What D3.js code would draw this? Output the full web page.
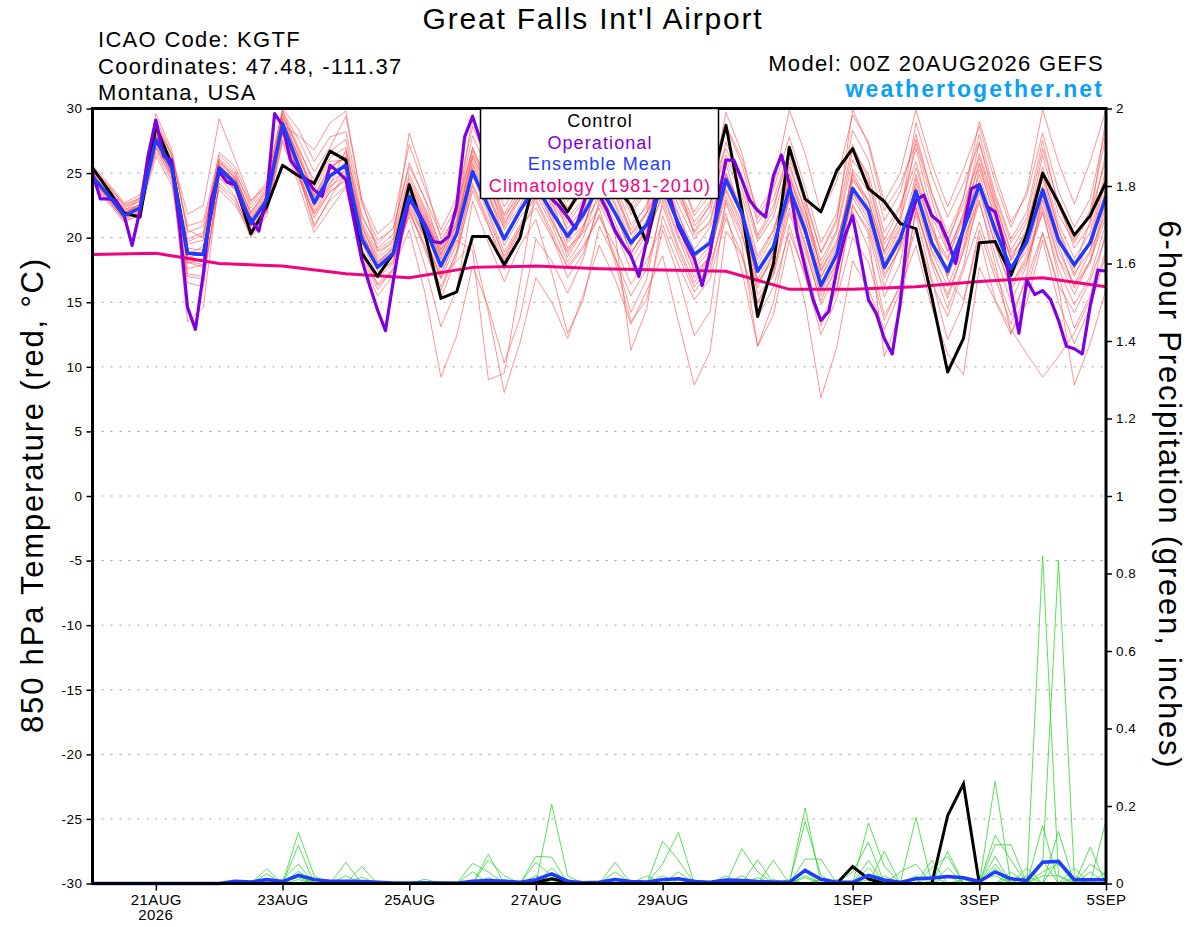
<!DOCTYPE html>
<html>
<head>
<meta charset="utf-8">
<script src="https://cdn.jsdelivr.net/npm/d3@7"></script>
<style>
body { margin: 0; background: #fff; }
text { font-family: "Liberation Sans", Arial, Helvetica, sans-serif; }
</style>
</head>
<body>
<div class="chart"></div>
<script>
// 850 hPa temperature, 6-hourly from 00Z 20AUG2026 (65 steps)
const controlTemp = [25.4,23.7,21.9,21.6, 28.6,25.7,18.8,18.7, 25.4,24.2,20.3,22.4, 25.6,24.8,24.2,26.7, 26.0,18.8,17.0,18.8, 24.1,20.3,15.3,15.8, 20.1,20.1,17.9,20.0, 25.0,23.8,22.0,24.0, 25.5,24.0,22.5,19.6, 25.0,24.0,25.5,23.8, 28.7,22.3,13.9,18.0, 27.0,23.0,22.0,25.2, 26.9,23.8,22.8,21.1, 20.7,15.4,9.6,12.2, 19.6,19.7,17.1,20.3, 25.0,22.7,20.2,21.7, 24.3];
const meanTemp = [24.7,23.3,21.7,22.3, 27.6,25.4,18.8,18.7, 25.4,24.2,21.1,22.9, 28.8,25.6,22.7,24.8, 25.6,19.9,17.7,18.8, 23.2,20.8,17.8,20.3, 25.1,22.4,19.9,22.1, 24.0,22.0,20.1,21.8, 24.0,21.9,19.6,21.0, 24.0,21.1,18.7,19.6, 24.5,21.9,17.4,19.3, 23.8,20.6,16.3,18.7, 23.8,22.1,17.7,19.9, 23.6,19.6,17.4,20.6, 24.1,20.6,17.6,19.7, 23.7,19.8,17.9,19.6, 23.2];
// operational run, 3-hourly (129 steps)
const operationalTemp = [25.0,23.0,23.0,22.9,21.7,19.4,22.1,26.3, 29.1,26.3,26.0,20.8,14.6,12.9,17.2,22.9, 25.1,24.3,24.1,22.4,21.4,20.5,23.2,29.6, 28.7,26.0,25.2,24.5,23.7,23.2,25.6,25.1, 24.5,21.4,18.3,16.3,14.4,12.8,16.7,20.3, 22.9,22.2,21.0,19.7,19.6,20.1,22.5,27.8, 29.4,27.5,26.0,25.0,24.5,25.5,26.5,27.0, 26.0,24.5,23.0,22.4,21.6,20.7,22.6,24.5, 23.3,22.1,20.5,19.5,18.6,17.0,19.8,22.9, 24.0,23.0,20.8,19.6,18.4,16.3,18.8,22.9, 26.0,26.0,24.5,22.9,22.1,21.6,24.8,26.4, 24.2,20.3,17.7,15.2,13.6,14.3,17.5,20.1, 21.7,18.5,15.2,14.1,12.2,11.0,14.9,20.8, 22.9,23.3,21.7,21.2,19.8,18.0,20.8,23.8, 24.1,22.4,22.0,19.8,15.9,12.6,16.7,15.6, 15.9,15.2,13.6,11.6,11.4,11.0,14.7,17.5, 17.4];
// climatology 1981-2010, daily at 00Z
const climatology = [18.7,18.8,18.0,17.8,17.2,16.9,17.7,17.8,17.6,17.5,17.4,16.0,16.0,16.2,16.6,16.9,16.2];

// GEFS perturbed members
const tempMembers = [
[25.2,23.9,22.4,22.8, 28.5,26.0,19.5,19.8, 25.8,24.9,21.8,23.5, 29.5,27.1,24.0,26.2, 27.0,21.2,18.9,19.6, 24.3,21.9,18.8,21.0, 26.3,24.0,21.0,23.4, 26.1,23.8,21.5,23.0, 26.5,24.2,21.0,22.4, 26.8,23.5,20.4,21.9, 27.4,24.6,20.0,22.1, 27.0,23.1,18.9,21.5, 27.2,24.5,19.8,22.3, 26.9,22.0,19.5,23.1, 28.0,23.4,19.9,22.0, 27.5,22.4,19.8,22.1, 27.9],
[24.5,23.0,21.4,21.9, 27.0,24.8,18.2,17.9, 24.9,23.7,20.5,22.4, 28.2,25.0,22.1,24.0, 24.8,19.1,16.9,18.0, 22.4,19.9,16.8,19.5, 24.2,21.3,18.6,20.8, 22.3,20.0,17.8,19.4, 21.6,19.3,16.4,18.2, 21.0,17.9,15.2,16.8, 21.5,18.7,13.8,16.2, 20.4,17.2,12.5,15.3, 20.0,18.1,13.6,16.4, 20.8,16.5,13.9,17.5, 21.2,17.4,14.0,16.8, 20.4,16.3,14.2,16.7, 20.1],
[24.9,23.4,22.0,22.6, 28.0,25.2,13.5,14.6, 24.6,23.8,20.9,22.8, 29.9,26.7,23.3,25.4, 26.3,19.2,16.4,17.6, 22.1,19.4,15.2,18.6, 24.0,21.0,17.5,20.2, 25.3,23.2,21.1,22.8, 27.2,24.6,21.8,23.6, 27.5,24.0,20.2,21.1, 25.8,21.4,15.6,17.0, 21.9,18.5,13.2,15.9, 22.4,20.6,15.4,18.0, 24.6,20.3,18.2,22.0, 26.5,22.6,19.0,21.2, 25.1,20.6,17.2,19.0, 21.8],
[25.0,23.6,22.1,22.9, 29.6,26.8,20.4,20.9, 26.1,25.0,22.6,24.1, 30.0,28.4,25.9,27.8, 28.2,22.6,19.8,20.7, 25.8,22.9,19.1,21.9, 27.0,24.1,20.6,22.5, 24.8,22.9,19.6,21.0, 23.1,20.8,18.7,20.9, 25.9,23.1,20.5,22.6, 28.6,25.7,21.1,23.0, 26.7,22.6,17.4,19.6, 24.4,22.8,18.9,21.7, 28.9,24.8,21.6,24.2, 27.3,22.8,18.8,20.1, 24.6,20.2,17.6,21.3, 29.3],
[24.3,22.8,21.5,22.0, 27.3,24.9,19.0,18.6, 25.1,23.9,21.3,22.9, 28.6,25.9,22.5,24.3, 25.2,20.4,17.9,19.3, 23.8,21.4,18.3,20.9, 25.6,22.8,19.4,21.6, 23.0,20.5,17.6,19.2, 21.8,18.6,14.2,16.8, 22.9,19.3,16.5,18.6, 24.1,21.8,17.9,20.1, 25.0,21.6,17.0,19.4, 24.9,22.3,18.3,20.6, 21.7,16.8,12.1,14.9, 20.6,16.9,13.3,17.2, 23.4,19.5,16.1,18.0, 22.5],
[24.6,23.2,21.8,22.1, 27.8,25.5,17.6,17.9, 25.6,24.4,21.4,23.2, 28.4,25.3,21.5,23.6, 24.4,19.6,17.1,18.5, 23.5,21.2,18.4,20.6, 25.8,23.1,20.8,23.0, 25.6,22.3,19.2,20.4, 22.3,18.1,13.5,15.2, 20.6,17.0,12.4,14.3, 22.9,20.2,16.1,18.8, 24.6,21.4,17.8,20.4, 26.0,24.3,19.5,21.4, 25.4,21.7,18.9,21.8, 25.7,21.3,16.4,18.3, 21.9,17.6,14.8,17.0, 21.1],
[24.8,23.5,21.9,22.4, 27.1,25.0,18.4,18.9, 25.3,24.0,21.0,22.6, 28.9,25.8,22.9,24.6, 25.9,20.1,18.0,19.0, 21.6,17.8,13.1,16.0, 22.8,19.6,16.6,19.4, 21.4,17.3,12.6,15.2, 20.9,18.4,15.5,17.6, 22.5,19.0,16.2,17.9, 21.9,17.5,11.6,14.0, 19.8,14.9,7.6,11.5, 18.2,16.0,12.9,15.8, 22.0,18.4,15.3,19.0, 23.8,19.5,16.0,18.1, 22.1,17.0,13.0,15.5, 20.5],
[25.1,23.7,22.2,22.5, 28.1,25.7,18.0,18.4, 24.7,23.2,20.2,22.0, 28.0,24.9,21.0,22.9, 24.0,18.5,16.0,17.6, 20.6,15.7,9.2,12.4, 17.8,14.6,10.3,13.8, 19.9,18.2,15.7,18.4, 22.9,20.6,17.5,19.8, 23.5,20.2,17.6,19.0, 23.2,20.5,15.0,17.4, 22.3,19.0,15.1,17.9, 23.1,21.0,16.2,19.4, 24.2,20.8,17.0,19.9, 22.9,18.0,12.6,15.0, 19.8,15.0,11.8,14.6, 18.7],
[24.4,23.1,21.6,22.2, 26.6,24.4,17.2,17.0, 24.2,23.1,20.3,22.0, 27.6,24.6,21.9,23.8, 25.4,20.6,17.4,18.1, 22.9,20.1,16.9,18.2, 19.6,14.2,8.0,11.9, 16.9,15.0,12.2,15.6, 19.4,16.8,13.3,15.9, 18.6,13.5,8.6,11.2, 20.5,18.6,14.9,17.2, 23.1,20.2,16.3,18.6, 25.3,23.6,19.0,21.1, 27.6,23.4,19.9,22.6, 26.2,22.4,18.2,20.0, 24.9,20.7,17.7,19.6, 24.5],
[24.7,23.3,21.9,22.5, 27.9,25.6,19.9,20.4, 25.9,24.6,22.0,23.6, 29.0,26.3,23.1,25.2, 26.6,21.0,18.6,19.8, 24.6,22.1,19.0,21.3, 26.4,23.6,20.1,22.0, 24.4,21.7,18.5,20.6, 24.8,22.5,19.3,21.4, 25.2,21.9,18.4,20.0, 25.0,22.0,16.6,18.2, 23.2,19.6,15.5,17.5, 22.0,19.2,14.0,16.1, 19.4,14.6,11.0,9.4, 17.7,15.1,12.5,16.0, 20.3,16.2,8.6,11.8, 16.0],
[25.3,24.0,22.6,23.0, 28.8,26.3,20.9,21.3, 26.4,25.2,22.3,23.9, 29.3,26.9,24.4,26.7, 27.6,21.8,19.2,20.3, 24.9,22.3,19.4,22.1, 27.9,25.1,21.8,24.0, 26.8,24.7,22.3,24.2, 27.9,25.3,22.1,23.8, 27.1,24.0,21.2,22.8, 26.4,23.8,19.7,21.6, 25.8,22.0,18.2,20.6, 26.8,24.9,20.4,22.5, 25.9,21.3,16.8,15.2, 20.1,15.2,12.9,11.0, 9.2,10.8,12.6,15.2, 19.0],
[24.9,23.4,21.9,22.6, 28.3,25.9,19.2,19.0, 25.5,24.5,21.6,23.3, 29.6,26.2,23.7,25.9, 26.0,20.8,18.4,19.4, 23.9,21.5,18.7,21.4, 26.7,23.9,21.4,23.8, 26.9,24.3,21.9,23.6, 25.3,22.7,19.8,21.9, 25.6,22.5,19.9,21.3, 26.0,23.3,18.6,20.6, 24.4,20.7,16.9,19.1, 24.6,22.9,18.7,20.8, 23.3,19.0,17.1,20.2, 25.3,21.7,18.5,20.5, 26.4,21.8,19.6,21.8, 26.0],
[25.4,24.1,22.5,23.1, 27.5,25.3,19.7,20.2, 26.0,24.7,21.9,23.8, 29.2,26.0,22.4,24.1, 26.8,21.6,19.5,20.8, 25.5,23.0,20.2,22.4, 26.9,24.2,21.7,23.2, 25.1,23.0,20.7,22.3, 25.9,23.4,20.6,22.6, 26.5,23.6,20.9,22.4, 28.7,26.1,22.0,24.0, 29.9,26.5,21.9,24.4, 29.5,27.4,22.8,25.0, 29.9,25.7,22.4,25.3, 28.6,24.3,20.8,23.6, 29.9,25.8,22.6,25.9, 29.9],
[24.2,22.7,21.2,21.8, 26.3,24.1,17.0,16.8, 24.0,22.8,20.0,21.7, 27.4,24.2,20.4,22.2, 23.9,18.7,16.3,17.4, 21.9,19.3,16.2,18.9, 23.6,20.9,18.2,20.5, 22.8,20.2,16.9,18.8, 22.6,20.3,11.3,14.5, 21.7,18.6,15.8,17.4, 22.7,19.5,11.6,15.0, 21.0,16.9,13.6,16.1, 22.6,20.3,10.8,14.2, 22.4,18.2,15.6,18.9, 22.7,18.7,15.0,17.9, 22.9,18.4,16.3,18.2, 21.6],
[25.6,24.2,22.7,23.3, 29.2,26.5,20.6,20.0, 26.6,25.5,22.8,24.3, 29.8,27.6,25.1,27.0, 29.4,23.0,20.3,21.4, 27.2,23.8,20.6,23.1, 28.6,25.8,22.4,24.5, 27.5,25.1,22.8,24.6, 28.4,25.7,22.5,24.2, 28.1,24.9,21.7,23.3, 29.7,26.6,21.5,23.7, 27.8,23.9,19.6,21.9, 28.3,26.0,21.3,23.5, 28.0,23.5,20.3,23.1, 29.0,24.9,21.2,23.3, 28.1,23.6,20.8,23.0, 28.5],
[24.6,23.1,21.5,22.0, 26.9,24.6,18.7,19.3, 23.7,22.5,20.6,22.3, 28.5,25.5,23.0,24.9, 25.7,20.3,18.2,19.1, 23.1,20.6,17.3,19.8, 19.0,9.0,9.5,16.5, 23.8,21.3,19.0,20.9, 24.3,21.8,18.8,20.6, 23.9,20.8,17.9,19.4, 24.7,22.2,17.3,19.4, 22.9,19.4,14.8,17.2, 23.4,21.4,16.9,19.3, 23.9,19.8,17.7,20.9, 24.9,20.9,17.3,19.0, 23.2,19.0,16.4,18.9, 23.9],
[25.0,23.5,22.3,23.0, 28.9,26.4,21.8,22.5, 29.2,26.1,22.9,24.0, 28.7,27.9,26.8,28.9, 29.8,22.9,19.0,19.9, 28.1,24.3,19.9,21.7, 29.5,25.3,21.2,23.0, 28.0,24.0,20.4,21.9, 27.0,23.9,20.3,22.0, 27.9,24.8,22.0,23.9, 26.9,24.3,20.2,22.5, 26.2,22.9,18.8,21.2, 29.9,27.2,22.1,24.1, 27.3,22.9,19.0,21.6, 27.4,23.1,19.6,21.5, 26.9,22.7,19.2,21.0, 26.6],
[24.5,22.9,21.3,21.7, 27.7,25.4,16.5,16.2, 25.2,23.9,21.2,23.0, 28.3,25.1,20.8,23.1, 25.0,18.2,15.5,17.1, 22.6,20.0,17.0,20.1, 25.4,22.0,18.9,21.0, 23.4,21.0,18.1,20.0, 23.7,21.2,18.3,20.3, 24.6,21.7,19.1,20.8, 23.6,20.9,16.4,18.6, 25.5,22.2,17.5,19.8, 24.0,21.9,17.2,19.1, 22.8,18.9,16.2,19.3, 24.4,20.0,16.9,19.4, 24.0,19.9,17.0,19.9, 24.9],
[25.2,23.8,22.0,22.4, 28.4,25.8,18.1,17.7, 25.7,24.6,21.5,23.1, 29.1,26.4,23.2,25.5, 26.2,20.9,18.1,19.2, 24.1,21.7,18.6,21.1, 26.1,23.3,19.9,22.0, 25.4,22.6,19.8,21.5, 25.6,23.3,20.2,21.9, 24.3,20.9,17.4,18.4, 24.9,22.4,18.3,20.5, 24.9,21.0,16.0,18.1, 23.5,21.7,17.5,19.6, 24.9,20.7,18.4,21.4, 25.8,22.1,18.3,20.7, 25.5,21.1,18.4,20.4, 25.3],
[24.8,23.2,21.7,22.2, 27.4,24.9,18.6,18.1, 25.0,23.8,20.8,22.5, 28.1,24.8,21.8,23.5, 24.6,19.0,17.0,18.3, 22.2,19.0,15.9,18.9, 24.8,21.8,18.4,20.7, 24.2,21.4,18.8,20.7, 24.7,22.0,18.9,20.4, 23.2,20.0,16.9,18.7, 23.8,21.2,16.8,18.9, 23.7,20.2,15.8,18.0, 25.1,22.8,18.0,20.3, 22.3,17.9,14.5,17.8, 23.5,19.4,16.3,18.6, 22.4,18.3,15.6,18.3, 22.9]
];

// 6-hour precipitation (inches), 6-hourly
const controlPrecip = [0,0,0,0, 0,0,0,0, 0,0,0,0, 0,0,0,0, 0,0,0,0, 0,0,0,0, 0,0,0,0, 0.003,0.012,0.004,0, 0,0,0,0, 0,0,0,0, 0,0,0,0, 0,0,0,0, 0.044,0.012,0,0, 0,0,0.175,0.257, 0,0,0,0, 0,0,0,0, 0];
const meanPrecip = [0,0,0,0, 0,0,0,0, 0,0.006,0.004,0.01, 0.005,0.021,0.01,0.006, 0.006,0.005,0.003,0.001, 0.001,0.002,0.001,0.001, 0.006,0.008,0.006,0.003, 0.01,0.025,0.006,0.002, 0.003,0.01,0.005,0.004, 0.01,0.012,0.005,0.003, 0.009,0.008,0.005,0.004, 0.003,0.034,0.011,0.003, 0.003,0.021,0.009,0.003, 0.012,0.014,0.018,0.015, 0.005,0.03,0.012,0.008, 0.055,0.057,0.01,0.01, 0.01];
const precipMembers = [
[0,0,0,0, 0,0,0,0, 0,0,0,0.038, 0,0.132,0.02,0, 0,0,0,0, 0,0,0,0, 0,0.075,0,0, 0,0.204,0.02,0, 0,0,0,0, 0.05,0.132,0,0, 0,0,0,0, 0,0.195,0,0, 0,0.06,0,0, 0.171,0,0,0, 0,0.264,0,0, 0.846,0.02,0,0, 0],
[0,0,0,0, 0,0,0,0, 0,0,0,0.025, 0,0.098,0,0, 0.055,0,0,0, 0,0,0,0, 0.052,0.03,0,0, 0.07,0.068,0,0, 0,0.055,0,0, 0,0,0,0, 0,0.09,0.03,0, 0,0.16,0.02,0, 0,0.156,0.045,0, 0,0,0.083,0, 0,0.125,0.06,0, 0.05,0.834,0.02,0, 0],
[0,0,0,0, 0,0,0,0, 0,0,0,0, 0.01,0.05,0,0, 0,0.044,0,0, 0,0,0,0, 0,0.061,0.02,0, 0,0.04,0,0, 0,0,0,0, 0.109,0.06,0,0, 0,0,0.061,0, 0,0.063,0.063,0, 0,0,0.083,0, 0,0.06,0,0, 0,0.1,0.1,0, 0.15,0,0,0.094, 0],
[0,0,0,0, 0,0,0,0, 0,0,0,0.012, 0,0.032,0,0, 0,0.016,0,0, 0,0.011,0,0, 0.03,0,0,0, 0.055,0.02,0,0, 0,0.03,0,0.02, 0,0,0,0, 0,0,0,0.06, 0,0.03,0,0, 0.03,0.107,0,0, 0,0.04,0.07,0, 0,0.07,0,0.04, 0,0.134,0,0, 0.163],
[0,0,0,0, 0,0,0,0, 0,0,0,0, 0,0.025,0.015,0, 0.02,0,0,0, 0,0,0,0, 0,0,0,0, 0,0.01,0,0, 0,0,0,0, 0,0.03,0,0, 0.02,0,0,0, 0,0,0.01,0, 0,0.04,0,0.03, 0.05,0,0,0, 0,0.05,0,0, 0,0.06,0,0.05, 0.02],
[0,0,0,0, 0,0,0,0, 0,0,0,0.01, 0,0.02,0,0, 0,0,0,0, 0,0,0,0, 0,0,0,0, 0,0,0.01,0, 0,0,0,0, 0,0,0.01,0, 0,0.02,0,0, 0,0.02,0,0, 0,0,0.02,0, 0,0,0.04,0, 0,0,0.03,0, 0.06,0,0.04,0, 0],
[0,0,0,0, 0,0,0,0, 0,0,0,0, 0.005,0.015,0,0, 0,0,0,0, 0,0,0,0, 0,0,0.01,0, 0,0.025,0,0, 0,0.01,0,0, 0,0,0,0, 0,0,0,0, 0.01,0,0,0.01, 0,0,0,0, 0,0,0,0.01, 0,0.04,0,0, 0.03,0.05,0,0.03, 0],
[0,0,0,0, 0,0,0,0, 0,0,0,0, 0,0,0.01,0, 0,0,0,0, 0,0,0,0, 0,0,0,0, 0,0.015,0,0, 0,0,0,0, 0.02,0,0,0, 0,0,0.015,0, 0,0,0,0, 0,0.02,0,0, 0.02,0,0,0, 0.01,0.02,0,0.02, 0,0,0.015,0, 0.03],
[0,0,0,0, 0,0,0,0, 0,0,0.005,0, 0,0.01,0,0, 0,0,0,0, 0,0,0,0, 0,0.015,0,0, 0.02,0,0,0, 0,0,0,0, 0,0.015,0,0, 0,0,0,0, 0,0.015,0,0, 0,0,0,0, 0,0.02,0,0, 0,0.03,0,0, 0.02,0.02,0,0, 0],
[0,0,0,0, 0,0,0,0, 0,0,0,0.006, 0,0,0,0, 0,0.008,0,0, 0,0,0.005,0, 0,0,0,0, 0,0.008,0,0, 0,0.008,0,0, 0,0,0,0, 0,0,0,0.01, 0,0,0,0, 0,0.01,0,0, 0,0,0.02,0, 0,0,0.015,0, 0,0,0,0.01, 0.01]
];

const tempTicks = [-30,-25,-20,-15,-10,-5,0,5,10,15,20,25,30];
const precipTicks = [0,0.2,0.4,0.6,0.8,1,1.2,1.4,1.6,1.8,2];
const dateTicks = ['2026-08-21','2026-08-23','2026-08-25','2026-08-27','2026-08-29','2026-09-01','2026-09-03','2026-09-05'];
const legendItems = [
	{label: 'Control', color: '#000000'},
	{label: 'Operational', color: '#8000e0'},
	{label: 'Ensemble Mean', color: '#1e3cff'},
	{label: 'Climatology (1981-2010)', color: '#f0047f'}
];

const width = 1200;
const height = 927;
const pLeft = 92.5, pRight = 1106, pTop = 108.5, pBottom = 883.5;

const svg = d3.select('.chart')
	.append('svg')
	.attr('width', width)
	.attr('height', height);

const start = Date.UTC(2026, 7, 20);
const hour = 3600000;
const times6 = meanTemp.map((d, i) => new Date(start + i * 6 * hour));
const times3 = operationalTemp.map((d, i) => new Date(start + i * 3 * hour));
const timesDay = climatology.map((d, i) => new Date(start + i * 24 * hour));

const x = d3.scaleUtc()
	.domain([new Date(start), new Date(start + 16 * 24 * hour)])
	.range([pLeft, pRight]);
const yT = d3.scaleLinear().domain([-30, 30]).range([pBottom, pTop]);
const yP = d3.scaleLinear().domain([0, 2]).range([pBottom, pTop]);

svg.append('clipPath').attr('id', 'plot')
	.append('rect')
	.attr('x', pLeft).attr('y', pTop)
	.attr('width', pRight - pLeft).attr('height', pBottom - pTop + 3);

// dotted grid
svg.selectAll('.grid')
	.data(tempTicks.filter(d => d > -30 && d < 30))
	.enter()
	.append('line')
	.attr('x1', pLeft).attr('x2', pRight)
	.attr('y1', d => yT(d)).attr('y2', d => yT(d))
	.attr('stroke', '#9a9a9a')
	.attr('stroke-width', 1)
	.attr('stroke-dasharray', '2,7');

const plot = svg.append('g').attr('clip-path', 'url(#plot)');

const lineT6 = d3.line().x((d, i) => x(times6[i])).y(d => yT(d));
const lineT3 = d3.line().x((d, i) => x(times3[i])).y(d => yT(d));
const lineTD = d3.line().x((d, i) => x(timesDay[i])).y(d => yT(d));
const lineP = d3.line().x((d, i) => x(times6[i])).y(d => yP(d));

plot.selectAll('.member')
	.data(tempMembers)
	.enter()
	.append('path')
	.attr('d', lineT6)
	.attr('fill', 'none')
	.attr('stroke', '#ff4a4a')
	.attr('stroke-opacity', 0.85)
	.attr('stroke-width', 0.7);

plot.selectAll('.pmember')
	.data(precipMembers)
	.enter()
	.append('path')
	.attr('d', lineP)
	.attr('fill', 'none')
	.attr('stroke', '#2ed82e')
	.attr('stroke-width', 0.8);

plot.append('path').attr('d', lineTD(climatology))
	.attr('fill', 'none').attr('stroke', '#f0047f').attr('stroke-width', 3);
plot.append('path').attr('d', lineT6(controlTemp))
	.attr('fill', 'none').attr('stroke', '#000').attr('stroke-width', 3).attr('stroke-linejoin', 'round');
plot.append('path').attr('d', lineT3(operationalTemp))
	.attr('fill', 'none').attr('stroke', '#8000e0').attr('stroke-width', 3.2).attr('stroke-linejoin', 'round');
plot.append('path').attr('d', lineT6(meanTemp))
	.attr('fill', 'none').attr('stroke', '#1e3cff').attr('stroke-width', 3.5).attr('stroke-linejoin', 'round');

plot.append('path').attr('d', lineP(controlPrecip))
	.attr('fill', 'none').attr('stroke', '#000').attr('stroke-width', 3);
plot.append('path').attr('d', lineP(meanPrecip))
	.attr('fill', 'none').attr('stroke', '#1e3cff').attr('stroke-width', 3.5);

// frame
svg.append('rect')
	.attr('x', pLeft).attr('y', pTop)
	.attr('width', pRight - pLeft).attr('height', pBottom - pTop)
	.attr('fill', 'none').attr('stroke', '#000').attr('stroke-width', 3);

// axes
const leftAxis = svg.append('g')
	.attr('transform', `translate(${pLeft - 1},0)`)
	.call(d3.axisLeft(yT).tickValues(tempTicks).tickSize(5).tickPadding(4).tickFormat(d => String(d)));
const rightAxis = svg.append('g')
	.attr('transform', `translate(${pRight + 1},0)`)
	.call(d3.axisRight(yP).tickValues(precipTicks).tickSize(5).tickPadding(4).tickFormat(d => String(+d.toFixed(1))));
const fmt = d3.utcFormat('%-d%b');
const bottomAxis = svg.append('g')
	.attr('transform', `translate(0,${pBottom + 1})`)
	.call(d3.axisBottom(x).tickValues(dateTicks.map(d => new Date(d + 'T00:00:00Z'))).tickSize(6).tickPadding(4).tickFormat(d => fmt(d).toUpperCase()));

[leftAxis, rightAxis, bottomAxis].forEach(g => {
	g.select('.domain').remove();
	g.selectAll('.tick line').attr('stroke', '#000').attr('stroke-width', 1.5);
	g.selectAll('.tick text')
		.attr('fill', '#000')
		.style('font-family', '"Liberation Sans", Arial, sans-serif');
});
leftAxis.selectAll('.tick text').style('font-size', '13.5px').style('letter-spacing', '0.5px');
rightAxis.selectAll('.tick text').style('font-size', '13.5px').style('letter-spacing', '0.5px');
bottomAxis.selectAll('.tick text').style('font-size', '15px').style('letter-spacing', '0.4px');

svg.append('text')
	.attr('x', x(new Date(dateTicks[0] + 'T00:00:00Z')))
	.attr('y', 920)
	.attr('text-anchor', 'middle')
	.style('font-size', '15px')
	.style('letter-spacing', '0.4px')
	.text('2026');

// header
svg.append('text')
	.attr('x', 593).attr('y', 28.5)
	.attr('text-anchor', 'middle')
	.style('font-size', '30px').style('letter-spacing', '1.8px')
	.text("Great Falls Int'l Airport");

const headLines = ['ICAO Code: KGTF', 'Coordinates: 47.48, -111.37', 'Montana, USA'];
svg.selectAll('.head')
	.data(headLines)
	.enter()
	.append('text')
	.attr('x', 98)
	.attr('y', (d, i) => 47 + i * 26.5)
	.style('font-size', '22px').style('letter-spacing', '1.3px')
	.text(d => d);

svg.append('text')
	.attr('x', 1104).attr('y', 71)
	.attr('text-anchor', 'end')
	.style('font-size', '22px').style('letter-spacing', '1.3px')
	.text('Model: 00Z 20AUG2026 GEFS');
svg.append('text')
	.attr('x', 1104).attr('y', 97)
	.attr('text-anchor', 'end')
	.attr('fill', '#0aa0f5')
	.style('font-size', '23px').style('font-weight', 'bold').style('letter-spacing', '2.1px')
	.text('weathertogether.net');

// axis titles
svg.append('text')
	.attr('transform', 'translate(43,495) rotate(-90)')
	.attr('text-anchor', 'middle')
	.style('font-size', '31px').style('letter-spacing', '1.8px')
	.text('850 hPa Temperature (red, °C)');
svg.append('text')
	.attr('transform', 'translate(1159,495) rotate(90)')
	.attr('text-anchor', 'middle')
	.style('font-size', '31px').style('letter-spacing', '1.8px')
	.text('6-hour Precipitation (green, inches)');

// legend
svg.append('rect')
	.attr('x', 480.5).attr('y', 108.5)
	.attr('width', 238).attr('height', 90)
	.attr('fill', '#fff').attr('stroke', '#000').attr('stroke-width', 1.5);
svg.selectAll('.legend')
	.data(legendItems)
	.enter()
	.append('text')
	.attr('x', 600)
	.attr('y', (d, i) => 127 + i * 21.7)
	.attr('text-anchor', 'middle')
	.attr('fill', d => d.color)
	.style('font-size', '18px').style('letter-spacing', '1.1px')
	.text(d => d.label);
</script>
</body>
</html>
